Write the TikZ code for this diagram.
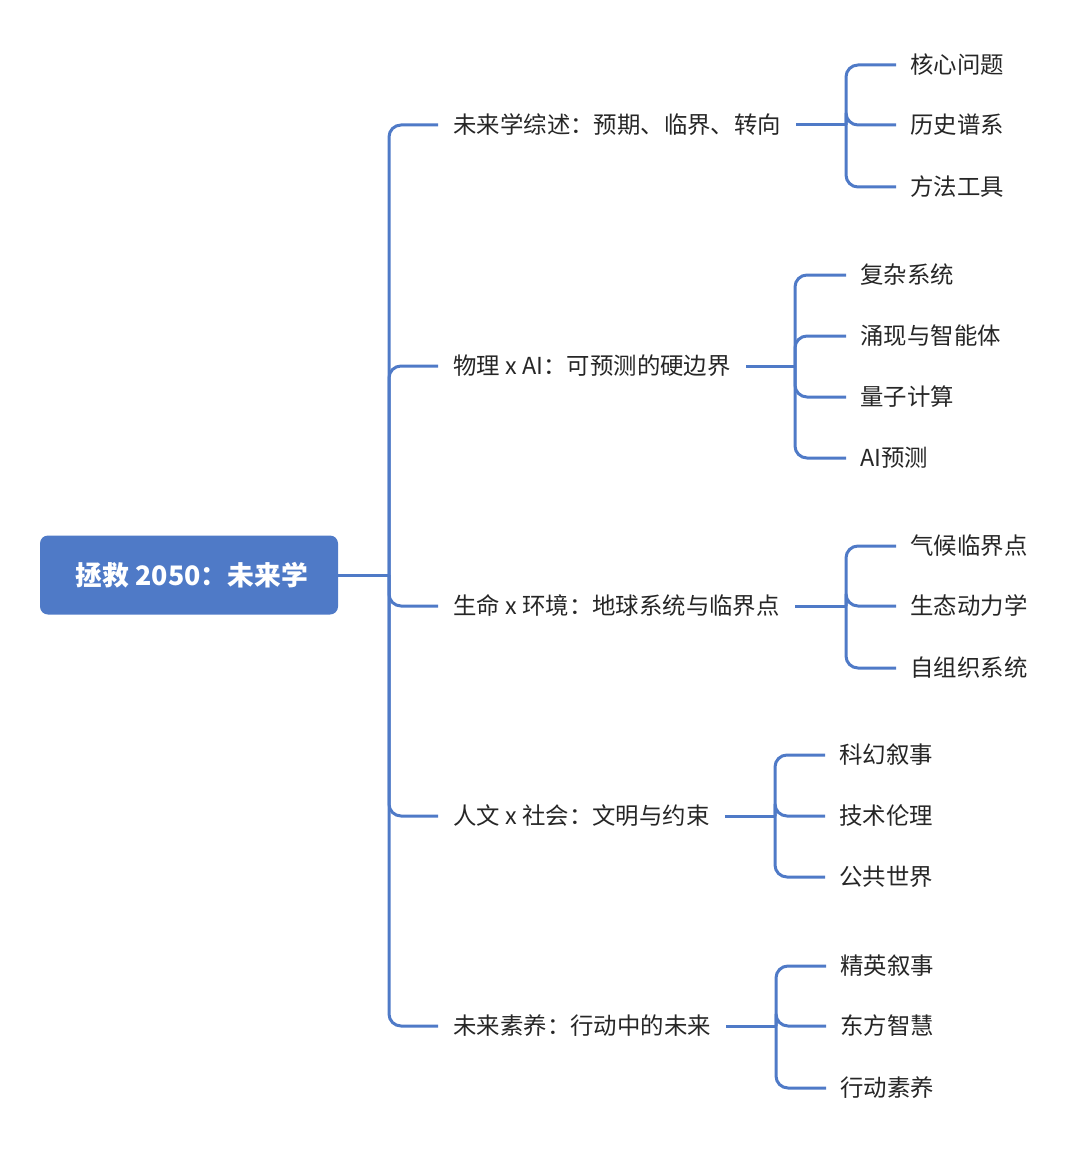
\documentclass[tikz,border=0pt]{standalone}
\usepackage{fontspec}
\setmainfont{Noto Sans CJK SC}
\definecolor{blueA}{HTML}{4F7AC7}
\definecolor{txt}{HTML}{262626}
\begin{document}
\begin{tikzpicture}[x=0.5pt,y=-0.5pt,
  conn/.style={draw=blueA,line width=1.5pt,rounded corners=6pt},
  lone/.style={font=\fontsize{11.7}{14}\selectfont,text=txt,inner xsep=7.5pt,inner ysep=2pt,anchor=west},
  leaf/.style={font=\fontsize{11.7}{14}\selectfont,text=txt,inner xsep=7pt,inner ysep=2pt,anchor=west},
  rootbox/.style={fill=blueA,rounded corners=4pt,minimum width=149pt,minimum height=39.5pt,text=white,font=\bfseries\fontsize{13.4}{16}\selectfont}]
\useasboundingbox (0,0) rectangle (1080,1150);
\node[rootbox] (root) at (189,575) {\hspace*{3pt}拯救 2050：未来学};
\coordinate (t) at (389,575);
\draw[conn] (root.east) -- (t);
% level 1
\node[lone] (l1) at (438,125) {未来学综述：预期、临界、转向};
\node[lone] (l2) at (438,366) {物理 x AI：可预测的硬边界};
\node[lone] (l3) at (438,606) {生命 x 环境：地球系统与临界点};
\node[lone] (l4) at (438,816) {人文 x 社会：文明与约束};
\node[lone] (l5) at (438,1026) {未来素养：行动中的未来};
\foreach \n in {l1,l2,l3,l4,l5} \draw[conn] (t) |- (\n.west);
% branch 1
\coordinate (s1) at (846,125);
\node[leaf] (c11) at (896,65) {核心问题};
\node[leaf] (c12) at (896,125) {历史谱系};
\node[leaf] (c13) at (896,187) {方法工具};
\draw[conn] (l1.east) -- (s1);
\foreach \n in {c11,c12,c13} \draw[conn] (s1) |- (\n.west);
% branch 2
\coordinate (s2) at (795,366);
\node[leaf] (c21) at (846,275) {复杂系统};
\node[leaf] (c22) at (846,336) {涌现与智能体};
\node[leaf] (c23) at (846,397) {量子计算};
\node[leaf] (c24) at (846,458) {AI预测};
\draw[conn] (l2.east) -- (s2);
\foreach \n in {c21,c22,c23,c24} \draw[conn] (s2) |- (\n.west);
% branch 3
\coordinate (s3) at (846,606);
\node[leaf] (c31) at (896,546) {气候临界点};
\node[leaf] (c32) at (896,606) {生态动力学};
\node[leaf] (c33) at (896,668) {自组织系统};
\draw[conn] (l3.east) -- (s3);
\foreach \n in {c31,c32,c33} \draw[conn] (s3) |- (\n.west);
% branch 4
\coordinate (s4) at (775,816);
\node[leaf] (c41) at (825,755) {科幻叙事};
\node[leaf] (c42) at (825,816) {技术伦理};
\node[leaf] (c43) at (825,877) {公共世界};
\draw[conn] (l4.east) -- (s4);
\foreach \n in {c41,c42,c43} \draw[conn] (s4) |- (\n.west);
% branch 5
\coordinate (s5) at (776,1026);
\node[leaf] (c51) at (826,966) {精英叙事};
\node[leaf] (c52) at (826,1026) {东方智慧};
\node[leaf] (c53) at (826,1088) {行动素养};
\draw[conn] (l5.east) -- (s5);
\foreach \n in {c51,c52,c53} \draw[conn] (s5) |- (\n.west);
\end{tikzpicture}
\end{document}
